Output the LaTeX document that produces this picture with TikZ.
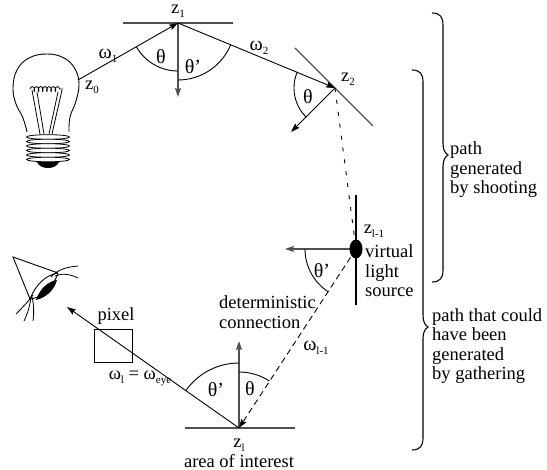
\documentclass[tikz,border=0pt]{standalone}
\usepackage{fontspec}
\setmainfont{Liberation Serif}
\usetikzlibrary{arrows.meta,decorations.pathmorphing,calc}
\newcommand\lsub[1]{\raisebox{-0.22em}{\fontsize{11pt}{11pt}\selectfont #1}}
\definecolor{surf}{RGB}{80,80,80}
\begin{document}
\begin{tikzpicture}[x=1pt,y=-1pt,
  lbl/.style={inner sep=0pt,font=\fontsize{18.5pt}{19.5pt}\selectfont},
  glbl/.style={inner sep=0pt,font=\fontsize{20pt}{21pt}\selectfont},
  ray/.style={line width=0.9pt,black},
  arr/.style={-{Stealth[length=9pt,width=6pt,inset=1.5pt]}},
  surface/.style={line width=1.3pt,surf},
  normal/.style={line width=1.3pt,surf,arr},
  angarc/.style={line width=0.9pt},
  brc/.style={line width=1.1pt}]
\useasboundingbox (0,0) rectangle (547,470);

% path vertices
\coordinate (z0) at (78,80);
\coordinate (z1) at (178,23);
\coordinate (z2) at (335,88);
\coordinate (zl1) at (356,249);
\coordinate (zl) at (239,428);
\coordinate (eyetip) at (67,307);

% surfaces
\draw[surface] (123,23) -- (233,23);
\draw[surface] (295,48) -- (373,126);
\draw[line width=1.1pt] (356,195) -- (356,305);
\draw[surface] (185,428) -- (295,428);

% normals and outgoing directions
\coordinate (n1) at (178,97);
\coordinate (n2) at (291,132);
\coordinate (nl1) at (285,249);
\coordinate (nl) at (239,341);
\draw[normal] (z1) -- (n1);
\draw[ray,arr] (z2) -- (n2);
\draw[normal] (zl1) -- (nl1);
\draw[normal] (zl) -- (nl);

% light path
\draw[ray,arr] (z0) -- (z1);
\draw[ray,arr] (z1) -- (z2);
\draw[ray,dash pattern=on 4pt off 8pt] (z2) -- (zl1);
\draw[ray,arr,dash pattern=on 6pt off 4pt] (zl1) -- (zl);
\draw[ray,arr] (zl) -- (eyetip);

% virtual light source
\fill (zl1) ellipse[x radius=6.5, y radius=9.5];

% angle arcs
\draw[angarc] ($(z1)+(150.3:48)$) arc[start angle=150.3,end angle=90,radius=48];
\draw[angarc] ($(z1)+(90:57)$) arc[start angle=90,end angle=22.2,radius=57];
\draw[angarc] ($(z2)+(202.5:41)$) arc[start angle=202.5,end angle=134.4,radius=41];
\draw[angarc] ($(zl1)+(180:51)$) arc[start angle=180,end angle=122.9,radius=51];
\draw[angarc] ($(zl)+(-90:56)$) arc[start angle=-90,end angle=-57.1,radius=56];
\draw[angarc] ($(zl)+(-144.9:65)$) arc[start angle=-144.9,end angle=-90,radius=65];

% pixel
\draw[line width=0.9pt] (94,329) rectangle (132,362);

% labels
\node[lbl] (lz1) at (178,11) {z\lsub{1}};
\node[lbl] (lz0) at (92,87) {z\lsub{0}};
\node[glbl] (lw1) at (108,56) {ω\lsub{1}};
\node[glbl] (lt1) at (161,57) {θ};
\node[glbl] (lt1p) at (193,67) {θ’};
\node[glbl] (lw2) at (259,48) {ω\lsub{2}};
\node[lbl] (lz2) at (348,79) {z\lsub{2}};
\node[glbl] (lt2) at (308,97) {θ};
\node[lbl] (lzl1) at (374,231) {z\lsub{l-1}};
\node[lbl,anchor=west,align=left] (vls) at (365,271) {virtual\\light\\source};
\node[glbl] (ltl1) at (322,271) {θ’};
\node[lbl,anchor=west,align=left] (det) at (219,312) {deterministic\\connection};
\node[glbl] (lwl1) at (316,348) {ω\lsub{l-1}};
\node[lbl] (lpix) at (116,316) {pixel};
\node[lbl] (lweye) at (140,378) {ω\lsub{l} = ω\lsub{eye}};
\node[glbl] (ltlp) at (216,390) {θ’};
\node[glbl] (ltl) at (250,389) {θ};
\node[lbl] (lzl) at (239,445) {z\lsub{l}};
\node[lbl] (area) at (239,461) {area of interest};
\node[lbl,anchor=west,align=left] (shoot) at (450,170) {path\\generated\\by shooting};
\node[lbl,anchor=west,align=left] (gath) at (432,346) {path that could\\have been\\generated\\by gathering};

% braces
\draw[brc] (432,13) .. controls (440,13) and (443,17) .. (443,25) -- (443,143)
  .. controls (443,150) and (445,153) .. (448,155)
  .. controls (445,157) and (443,160) .. (443,167) -- (443,270)
  .. controls (443,278) and (440,282) .. (432,282);
\draw[brc] (412,70) .. controls (420,70) and (423,74) .. (423,82) -- (423,315)
  .. controls (423,322) and (425,325) .. (428,327)
  .. controls (425,329) and (423,332) .. (423,339) -- (423,438)
  .. controls (423,446) and (420,450) .. (412,450);

% light bulb
\draw[line width=0.9pt] plot[smooth,tension=0.7] coordinates {(27,132) (23,118) (16,104) (13,88) (17,70) (29,58) (47,54) (64,58) (75,69) (79,84) (76,101) (70,117) (69,132)};
\draw[line width=0.8pt,decorate,decoration={coil,aspect=0.5,segment length=4.2pt,amplitude=2.4pt}] (30,89) -- (63,89);
\draw[line width=0.8pt] (32,90) -- (40,134);
\draw[line width=0.8pt] (37,92) -- (44,134);
\draw[line width=0.8pt] (62,90) -- (52,134);
\draw[line width=0.8pt] (58,92) -- (49,134);
\foreach \yy in {137,141.5,146,150.5,155,159.5}
  \draw[line width=0.8pt,fill=white] (48,\yy) ellipse[x radius=21.5, y radius=2.3];
\fill (37,162) .. controls (40,170) and (56,170) .. (59,162) -- cycle;

% eye
\draw[line width=0.9pt] (58,273) -- (13,257) -- (30,299);
\draw[line width=0.9pt] (30,299) .. controls (36,284) and (46,275) .. (58,273);
\draw[line width=0.9pt] (30,299) .. controls (42,298) and (53,288) .. (58,273);
\fill (36,300) .. controls (40,288) and (49,281) .. (57,280)
  .. controls (54,291) and (45,298) .. (36,300) -- cycle;
\draw[line width=0.8pt] (51,277) .. controls (57,270) and (66,267) .. (78,266);
\draw[line width=0.8pt] (55,276) .. controls (62,273) and (70,274) .. (78,278);
\draw[line width=0.8pt] (33,295) .. controls (27,303) and (22,308) .. (16,314);
\draw[line width=0.8pt] (31,297) .. controls (30,305) and (28,313) .. (24,321);
\draw[line width=0.8pt] (32,297) .. controls (34,305) and (34,313) .. (33,321);
\end{tikzpicture}
\end{document}
